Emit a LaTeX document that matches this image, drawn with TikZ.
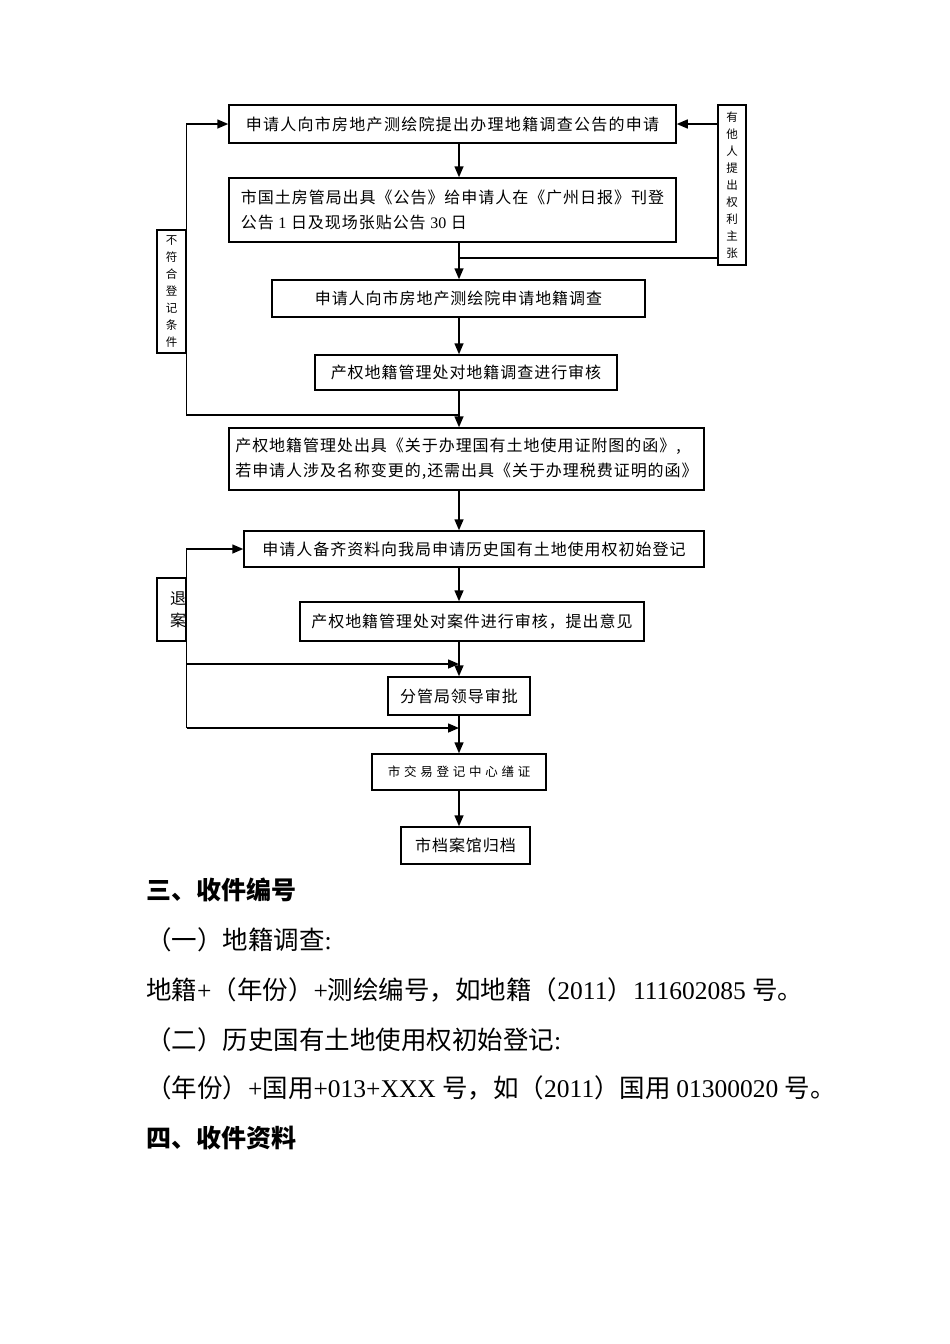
\documentclass[tikz,border=0pt]{standalone}
\usepackage{fontspec}
\setmainfont{Liberation Serif}
\newfontfamily\cjk{Noto Sans CJK SC}
\usetikzlibrary{arrows.meta,calc}
\begin{document}
\begin{tikzpicture}[x=1pt,y=-1pt,
  box/.style={draw,line width=1.5pt,rectangle,inner sep=0pt,align=left,
    font=\cjk\fontsize{16}{25}\selectfont\addfontfeature{LetterSpace=6}},
  side/.style={draw,line width=1.4pt,rectangle,inner sep=0pt,align=center,
    font=\cjk\fontsize{11.5}{17}\selectfont},
  arr/.style={line width=1.5pt,-{Triangle[length=11pt,width=9pt]}},
  ln/.style={line width=1.5pt},
  para/.style={anchor=west,inner sep=0pt,font=\cjk\fontsize{25.5}{30}\selectfont},
  head/.style={anchor=west,inner sep=0pt,font=\cjk\bfseries\fontsize{25}{30}\selectfont}
]
\fill[white] (0,0) rectangle (950,1344);
\useasboundingbox (0,0) rectangle (950,1344);

\node[box,minimum width=447pt,minimum height=38pt,font=\cjk\fontsize{16}{25}\selectfont\addfontfeature{LetterSpace=8}] (b1) at (452.5,124) {申请人向市房地产测绘院提出办理地籍调查公告的申请};
\node[box,minimum width=447pt,minimum height=64pt] (b2) at (452.5,210) {市国土房管局出具《公告》给申请人在《广州日报》刊登\\公告 {\rmfamily 1} 日及现场张贴公告 {\rmfamily 30} 日};
\node[box,minimum width=373pt,minimum height=37pt] (b3) at (458.5,298.5) {申请人向市房地产测绘院申请地籍调查};
\node[box,minimum width=302pt,minimum height=35pt] (b4) at (466,372.5) {产权地籍管理处对地籍调查进行审核};
\node[box,minimum width=475pt,minimum height=62pt] (b5) at (466.5,459) {产权地籍管理处出具《关于办理国有土地使用证附图的函》,\\若申请人涉及名称变更的,还需出具《关于办理税费证明的函》};
\node[box,minimum width=460pt,minimum height=36pt] (b6) at (474,549) {申请人备齐资料向我局申请历史国有土地使用权初始登记};
\node[box,minimum width=344pt,minimum height=39pt] (b7) at (472,621.5) {产权地籍管理处对案件进行审核，提出意见};
\node[box,minimum width=142pt,minimum height=38pt] (b8) at (459,696) {分管局领导审批};
\node[box,minimum width=174pt,minimum height=36pt,font=\cjk\fontsize{12.5}{20}\selectfont\addfontfeature{LetterSpace=30}] (b9) at (459,772) {市交易登记中心缮证};
\node[box,minimum width=129pt,minimum height=37pt] (b10) at (465.5,845.5) {市档案馆归档};

\node[side,minimum width=28pt,minimum height=160pt] (sr) at (732,185) {有\\他\\人\\提\\出\\权\\利\\主\\张};
\node[side,minimum width=29pt,minimum height=123pt] (sl1) at (171.5,291.5) {不\\符\\合\\登\\记\\条\\件};
\node[side,minimum width=29pt,minimum height=63pt] (sl2) at (171.5,609.5) {};
\node[inner sep=0pt,align=center,font=\cjk\fontsize{16}{22}\selectfont] (tk) at (178,610) {退\\案};

\coordinate (cx) at (459,0);
\coordinate (j1) at (459,258);
\coordinate (j2) at (459,415);
\coordinate (j3) at (459,664);
\coordinate (j4) at (459,728);

\draw[arr] (b1.south -| cx) -- (b2.north -| cx);
\draw[ln] (sr.west |- j1) -- (j1);
\draw[arr] (b2.south -| cx) -- (b3.north -| cx);
\draw[arr] (sr.west |- b1.east) -- (b1.east);
\draw[arr] (b3.south -| cx) -- (b4.north -| cx);
\draw[arr] (j2) -- (sl1.east |- j2) -- (sl1.east |- b1.west) -- (b1.west);
\draw[arr] (b4.south -| cx) -- (b5.north -| cx);
\draw[arr] (b5.south -| cx) -- (b6.north -| cx);
\draw[arr] (b6.south -| cx) -- (b7.north -| cx);
\draw[arr] (sl2.east |- j4) -- (sl2.east |- b6.west) -- (b6.west);
\draw[arr] (sl2.east |- j3) -- (j3);
\draw[arr] (sl2.east |- j4) -- (j4);
\draw[arr] (b7.south -| cx) -- (b8.north -| cx);
\draw[arr] (b8.south -| cx) -- (b9.north -| cx);
\draw[arr] (b9.south -| cx) -- (b10.north -| cx);

\node[head] (h3) at (146,890) {三、收件编号};
\node[para] (p1) at (146,940) {（一）地籍调查{\rmfamily :}};
\node[para] (p2) at (146,990) {地籍{\rmfamily +}（年份）{\rmfamily +}测绘编号，如地籍（{\rmfamily 2011}）{\rmfamily 111602085 }号。};
\node[para] (p3) at (146,1040) {（二）历史国有土地使用权初始登记{\rmfamily :}};
\node[para] (p4) at (146,1088) {（年份）{\rmfamily +}国用{\rmfamily +013+XXX }号，如（{\rmfamily 2011}）国用 {\rmfamily 01300020 }号。};
\node[head] (h4) at (146,1138) {四、收件资料};
\end{tikzpicture}
\end{document}
